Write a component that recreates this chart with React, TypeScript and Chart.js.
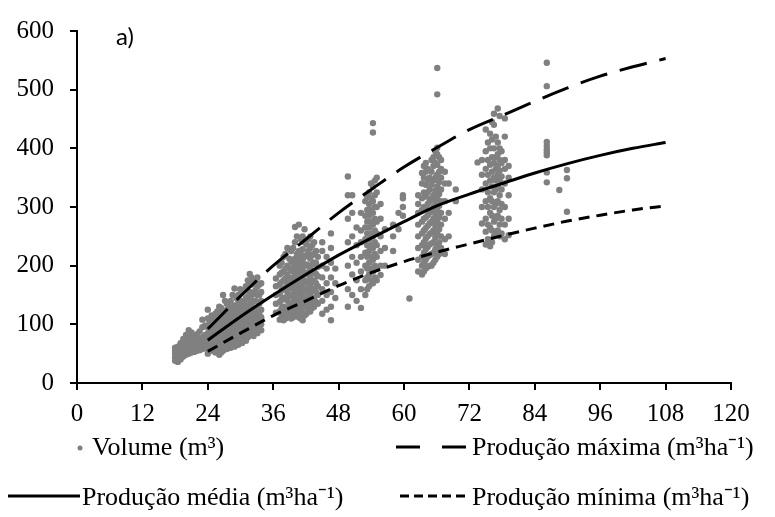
import React, { useEffect, useRef } from "react";
import { Chart, registerables } from "chart.js";

Chart.register(...registerables);

// ---- axis ticks ----
const xTickValues = [0, 12, 24, 36, 48, 60, 72, 84, 96, 108, 120];
const yTickValues = [0, 100, 200, 300, 400, 500, 600];

// ---- fitted production curves ----
const curveAges = [24, 30, 36, 42, 48, 54, 60, 66, 72, 78, 84, 90, 96, 102, 108];
const prodMax = [92, 148, 200, 245, 290, 330, 368, 401, 432, 456, 480, 503, 523, 539, 553];
const prodMed = [73, 113, 150, 185, 218, 247, 275, 302, 322, 340, 358, 374, 388, 400, 410];
const prodMin = [54, 85, 115, 140, 166, 188, 207, 223, 237, 251, 264, 276, 286, 295, 302];

// ---- observed plot volumes (age column -> volumes) ----
const plotAges = [
  18.0, 18.5, 19.0, 19.5, 20.0, 20.5, 21.0, 21.5, 22.0, 22.5, 23.0, 23.5,
  24.0, 24.7, 25.4, 26.1, 26.8, 27.5, 28.2, 28.9, 29.6, 30.3, 31.0, 31.7, 32.4, 33.1, 33.8,
  36.5, 37.2, 37.9, 38.6, 39.3, 40.0, 40.7, 41.4, 42.1, 42.8, 43.5, 44.2, 45.0, 45.8, 46.6, 47.4,
  49.7, 50.5, 51.3, 52.1, 52.9, 53.6, 54.3, 55.0, 55.7, 56.5, 58.0, 59.0, 59.8,
  61.0, 62.6, 63.3, 64.0, 64.7, 65.4, 66.1, 66.8, 67.5, 68.2, 69.5,
  73.5, 74.3, 75.0, 75.8, 76.5, 77.2, 77.9, 78.5, 79.2,
  86.2, 88.5, 89.9,
  // denser in-between columns
  24.35, 25.05, 25.75, 26.45, 27.15, 27.85, 28.55, 29.25, 29.95, 30.65, 31.35, 32.05, 32.75, 33.45,
  37.55, 38.25, 38.95, 39.65, 40.35, 41.05, 41.75, 42.45, 43.15, 43.85,
  53.25, 53.95, 54.65,
  63.65, 64.35, 65.05, 65.75, 66.45,
  75.4, 76.15, 76.85, 77.55,
];
const plotVolumes = [
  [38, 44, 50, 55, 60],
  [36, 42, 48, 53, 58, 62],
  [40, 46, 52, 57, 63, 68],
  [45, 50, 56, 62, 70, 75],
  [48, 53, 58, 64, 72, 82],
  [50, 55, 60, 66, 74, 90],
  [52, 57, 62, 68, 78, 86],
  [53, 58, 63, 70, 80],
  [55, 60, 66, 72, 83],
  [56, 62, 68, 75, 88],
  [58, 64, 70, 78, 95, 108],
  [60, 66, 73, 82, 98],
  [50, 58, 66, 75, 85, 95, 110, 125],
  [55, 62, 70, 78, 88, 100, 115],
  [52, 60, 68, 76, 84, 94, 105, 118],
  [48, 56, 65, 74, 83, 92, 102, 112, 130],
  [55, 63, 72, 80, 90, 98, 108, 120, 150],
  [58, 66, 75, 84, 93, 102, 112, 125, 135],
  [60, 68, 78, 86, 95, 104, 115, 128, 140],
  [62, 70, 80, 90, 100, 110, 120, 132, 161],
  [65, 74, 84, 94, 104, 114, 124, 138, 150],
  [68, 78, 88, 98, 108, 118, 128, 140, 155],
  [72, 82, 92, 102, 112, 122, 132, 145, 165],
  [82, 90, 100, 110, 120, 130, 142, 155, 172, 186],
  [80, 88, 98, 108, 118, 128, 140, 152, 170],
  [85, 95, 105, 115, 125, 138, 150, 165, 180],
  [90, 100, 112, 125, 140, 155, 170],
  [120, 135, 150, 165, 178],
  [108, 122, 138, 152, 168, 185, 200],
  [107, 118, 130, 145, 160, 175, 190, 215],
  [112, 125, 140, 155, 170, 185, 200, 230],
  [110, 120, 135, 148, 162, 178, 192, 208, 225],
  [115, 128, 142, 156, 170, 184, 198, 212, 240, 266],
  [112, 125, 140, 155, 168, 182, 196, 210, 225, 270],
  [107, 120, 135, 150, 165, 180, 195, 210, 228, 250],
  [118, 132, 146, 160, 174, 188, 202, 218, 236],
  [122, 136, 150, 165, 180, 195, 212, 230, 250],
  [130, 145, 160, 175, 190, 205, 220, 240],
  [135, 150, 165, 182, 198, 215],
  [118, 140, 160, 180, 200, 225, 240],
  [125, 150, 170, 195, 215],
  [107, 130, 155, 180, 205, 230, 255],
  [145, 170, 195],
  [130, 160, 200, 240, 280, 320, 352],
  [150, 185, 215, 250, 290, 320],
  [140, 175, 205, 235, 265],
  [128, 160, 190, 215, 240, 260, 290],
  [150, 175, 200, 222, 245, 265, 285, 310],
  [165, 185, 205, 225, 245, 265, 285, 305, 325],
  [170, 190, 210, 230, 250, 270, 290, 310, 335, 427, 443],
  [175, 195, 215, 235, 255, 275, 300, 325, 350],
  [184, 200, 225, 250, 280, 305],
  [200, 230, 262],
  [225, 250, 270],
  [262, 290],
  [285, 300, 315, 320],
  [144],
  [190, 210, 230, 250, 270, 290, 305, 320],
  [185, 200, 215, 235, 255, 275, 295, 315, 340, 358],
  [195, 210, 228, 246, 264, 282, 300, 318, 338, 360, 375],
  [200, 218, 236, 254, 272, 290, 310, 330, 350],
  [205, 222, 240, 260, 280, 300, 320, 345, 370, 385],
  [215, 235, 255, 275, 295, 315, 335, 355, 372, 390, 401, 492, 537],
  [230, 250, 270, 290, 310, 330, 350, 365, 380],
  [220, 245, 280, 310, 340, 360],
  [250, 290, 340],
  [310, 330],
  [376],
  [272, 300, 330, 355, 380],
  [236, 258, 280, 310, 340, 365, 395, 432],
  [233, 241, 265, 290, 315, 345, 372, 400, 425],
  [250, 275, 300, 325, 350, 375, 400, 440, 459],
  [260, 285, 310, 335, 355, 370, 390, 410, 468],
  [255, 280, 305, 330, 352, 375, 395],
  [245, 270, 300, 340, 365, 380, 420, 451],
  [252, 280, 320, 350, 370],
  [342, 359, 388, 393, 398, 404, 411, 506, 546],
  [329],
  [292, 349, 363],
  // denser in-between columns
  [60, 72, 82, 92, 104],
  [58, 66, 80, 90, 102, 112],
  [62, 72, 86, 98, 110, 122],
  [52, 68, 78, 88, 100, 115, 128],
  [60, 70, 85, 96, 106, 118, 140],
  [64, 74, 88, 98, 110, 122, 132],
  [66, 76, 92, 102, 114, 126, 150],
  [68, 80, 95, 106, 118, 130, 145],
  [72, 84, 96, 110, 122, 136, 160],
  [74, 86, 100, 114, 126, 140, 158],
  [78, 90, 104, 118, 132, 148, 175],
  [84, 96, 108, 122, 136, 150, 168, 180],
  [86, 98, 112, 126, 140, 158, 175],
  [92, 106, 120, 135, 150, 168],
  [115, 128, 142, 158, 172, 188, 205],
  [110, 126, 146, 162, 178, 195, 220],
  [118, 132, 150, 165, 180, 196, 212],
  [112, 124, 138, 152, 175, 190, 205, 230],
  [118, 132, 146, 162, 176, 190, 205, 220, 250],
  [110, 128, 145, 160, 175, 190, 205, 220, 245],
  [115, 130, 142, 158, 172, 186, 200, 215, 240, 262],
  [125, 140, 155, 170, 185, 200, 225, 245],
  [128, 142, 158, 172, 188, 202, 218, 235],
  [138, 155, 170, 186, 205, 225],
  [160, 180, 195, 215, 235, 255, 275, 295, 318],
  [175, 195, 215, 235, 255, 275, 295, 315, 340],
  [180, 200, 220, 240, 260, 280, 300, 320, 345],
  [190, 205, 222, 240, 260, 280, 300, 325, 350, 370],
  [198, 215, 232, 250, 268, 286, 305, 325, 345, 365],
  [200, 220, 238, 256, 275, 295, 315, 338, 360, 380],
  [210, 228, 248, 268, 288, 308, 328, 350, 375, 395],
  [220, 240, 262, 282, 302, 322, 342, 360, 385],
  [245, 270, 300, 325, 355, 380, 410],
  [240, 260, 285, 310, 335, 360, 385, 415, 445],
  [255, 280, 305, 330, 345, 365, 385, 420],
  [250, 270, 295, 320, 345, 362, 380, 400, 455],
];

const seriesLabels = [
  "Volume (m³)",
  "Produção máxima (m³ha⁻¹)",
  "Produção média (m³ha⁻¹)",
  "Produção mínima (m³ha⁻¹)",
];
const panelLabel = "a)";

const SERIF = "'Liberation Serif', 'Times New Roman', serif";
const GRAY = "#808080";

Chart.defaults.font.family = SERIF;
Chart.defaults.color = "#000";

const legendPlugin = {
  id: "customLegend",
  afterDraw(chart: any) {
    const ctx = chart.ctx as CanvasRenderingContext2D;
    ctx.save();
    // panel label
    ctx.fillStyle = "#000";
    ctx.font = "24px Lato, 'Open Sans', sans-serif";
    ctx.textAlign = "left";
    ctx.textBaseline = "alphabetic";
    ctx.fillText(panelLabel, 116, 45);

    ctx.font = "26px " + SERIF;
    const row1 = 447;
    const row2 = 496;
    // Volume
    ctx.fillStyle = GRAY;
    ctx.beginPath();
    ctx.arc(80, row1 + 1, 2.5, 0, Math.PI * 2);
    ctx.fill();
    ctx.fillStyle = "#000";
    ctx.fillText(seriesLabels[0], 92, row1 + 8);

    const drawSample = (x0: number, x1: number, y: number, dash: number[]) => {
      ctx.strokeStyle = "#000";
      ctx.lineWidth = 3;
      ctx.setLineDash(dash);
      ctx.beginPath();
      ctx.moveTo(x0, y);
      ctx.lineTo(x1, y);
      ctx.stroke();
      ctx.setLineDash([]);
    };
    drawSample(396, 470, row1, [24, 22]);
    ctx.fillText(seriesLabels[1], 472, row1 + 8);
    drawSample(8, 80, row2, []);
    ctx.fillText(seriesLabels[2], 82, row2 + 9);
    drawSample(400, 468, row2, [9, 5]);
    ctx.fillText(seriesLabels[3], 472, row2 + 9);
    ctx.restore();
  },
};

export default function App() {
  const canvasRef = useRef<HTMLCanvasElement | null>(null);

  useEffect(() => {
    if (!canvasRef.current) return;
    const scatterPoints = plotAges.flatMap((age, i) =>
      plotVolumes[i].map((v) => ({ x: age, y: v }))
    );
    const curve = (vals: number[]) => curveAges.map((a, i) => ({ x: a, y: vals[i] }));

    const chart = new Chart(canvasRef.current, {
      type: "scatter",
      data: {
        datasets: [
          {
            label: seriesLabels[0],
            data: scatterPoints,
            backgroundColor: GRAY,
            borderColor: GRAY,
            pointRadius: 3.2,
            pointBorderWidth: 0,
            showLine: false,
            order: 4,
          },
          {
            label: seriesLabels[1],
            type: "line",
            data: curve(prodMax),
            borderColor: "#000",
            borderWidth: 3,
            borderDash: [28, 13],
            pointRadius: 0,
            fill: false,
            cubicInterpolationMode: "monotone",
            order: 1,
          },
          {
            label: seriesLabels[2],
            type: "line",
            data: curve(prodMed),
            borderColor: "#000",
            borderWidth: 3,
            pointRadius: 0,
            fill: false,
            cubicInterpolationMode: "monotone",
            order: 2,
          },
          {
            label: seriesLabels[3],
            type: "line",
            data: curve(prodMin),
            borderColor: "#000",
            borderWidth: 3,
            borderDash: [11, 7],
            pointRadius: 0,
            fill: false,
            cubicInterpolationMode: "monotone",
            order: 3,
          },
        ],
      } as any,
      options: {
        responsive: false,
        animation: false,
        events: [],
        layout: { padding: { top: 20, right: 44, bottom: 84, left: 0 } },
        plugins: {
          legend: { display: false },
          tooltip: { enabled: false },
          title: { display: false },
        },
        scales: {
          x: {
            type: "linear",
            min: 0,
            max: 120,
            afterFit: (s: any) => {
              s.height = 50;
            },
            afterBuildTicks: (s: any) => {
              s.ticks = xTickValues.map((v) => ({ value: v }));
            },
            ticks: {
              autoSkip: false,
              maxRotation: 0,
              padding: 9,
              color: "#000",
              font: { family: SERIF, size: 25 },
            },
            grid: {
              drawOnChartArea: false,
              drawTicks: true,
              tickLength: 7,
              color: "#000",
              lineWidth: 2,
            },
            border: { color: "#000", width: 2 },
          },
          y: {
            type: "linear",
            min: 0,
            max: 600,
            afterFit: (s: any) => {
              s.width = 77;
            },
            afterBuildTicks: (s: any) => {
              s.ticks = yTickValues.map((v) => ({ value: v }));
            },
            ticks: {
              padding: 16,
              color: "#000",
              font: { family: SERIF, size: 25 },
            },
            grid: {
              drawOnChartArea: false,
              drawTicks: true,
              tickLength: 7,
              color: "#000",
              lineWidth: 2,
            },
            border: { color: "#000", width: 2 },
          },
        },
      } as any,
      plugins: [legendPlugin],
    });

    let alive = true;
    const fontsApi: any = (document as any).fonts;
    if (fontsApi && fontsApi.load) {
      Promise.all([
        fontsApi.load("25px 'Liberation Serif'"),
        fontsApi.load("24px Lato"),
      ])
        .catch(() => null)
        .then(() => {
          if (alive) chart.update();
        });
    }
    return () => {
      alive = false;
      chart.destroy();
    };
  }, []);

  return (
    <div style={{ position: "fixed", left: 0, top: 0, width: 775, height: 517, background: "#fff" }}>
      <canvas ref={canvasRef} width={775} height={517} />
      <span
        style={{
          position: "absolute",
          left: 0,
          top: 0,
          opacity: 0,
          fontFamily: "'Liberation Serif'",
          fontSize: 25,
          pointerEvents: "none",
        }}
      >
        0123456789
      </span>
    </div>
  );
}
